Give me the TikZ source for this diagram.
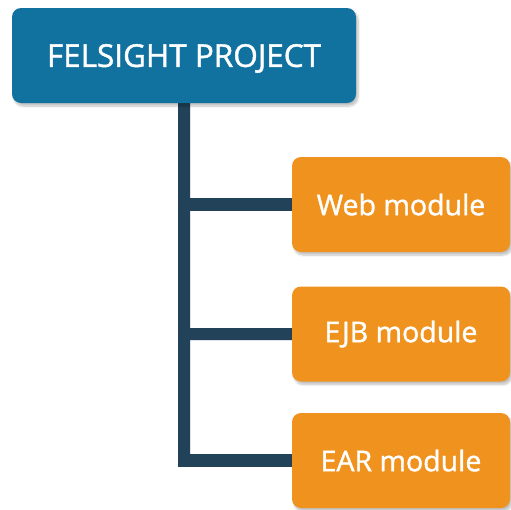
\documentclass[tikz,border=0pt]{standalone}
\usepackage{fontspec}
\setmainfont{Open Sans}
\newfontfamily\labelfont{Open Sans}[FakeBold=1.3]
\usetikzlibrary{backgrounds,shadows.blur}
\definecolor{headblue}{HTML}{1172A0}
\definecolor{modorange}{HTML}{F0931E}
\definecolor{stemnavy}{HTML}{22425A}
\tikzset{
  x=1pt, y=-1pt,
  boxshadow/.style={blur shadow={shadow xshift=2pt, shadow yshift=-3pt, shadow blur steps=6, shadow opacity=25}},
  headbox/.style={fill=headblue, text=white, rounded corners=9pt, minimum width=344pt, minimum height=95pt, text depth=0pt, font=\labelfont\fontsize{31.5}{36}\selectfont, boxshadow},
  modbox/.style={fill=modorange, text=white, rounded corners=9pt, minimum width=218pt, minimum height=95pt, font=\labelfont\fontsize{28.5}{33}\selectfont, boxshadow},
  conn/.style={draw=stemnavy, line width=12.5pt, line join=miter},
  connshadow/.style={draw=black!70!blue, opacity=0.12, line width=13pt, line join=miter}
}
\begin{document}
\begin{tikzpicture}
\useasboundingbox (0,0) rectangle (511,509);
\node[headbox] (head) at (184,55.5) {FELSIGHT PROJECT};
\node[modbox] (web) at (401,204.5) {Web module};
\node[modbox] (ejb) at (401,334) {EJB module};
\node[modbox] (ear) at (401,460.5) {EAR module};
\begin{pgfonlayer}{background}
  \begin{scope}[xshift=2.5pt, yshift=-3pt]
    \draw[connshadow] (head.south) -- (head.south |- ear.west) -- (ear.west);
    \draw[connshadow] (head.south |- web.west) -- (web.west);
    \draw[connshadow] (head.south |- ejb.west) -- (ejb.west);
  \end{scope}
  \draw[conn] (head.south) -- (head.south |- ear.west) -- (ear.west);
  \draw[conn] (head.south |- web.west) -- (web.west);
  \draw[conn] (head.south |- ejb.west) -- (ejb.west);
\end{pgfonlayer}
\end{tikzpicture}
\end{document}
